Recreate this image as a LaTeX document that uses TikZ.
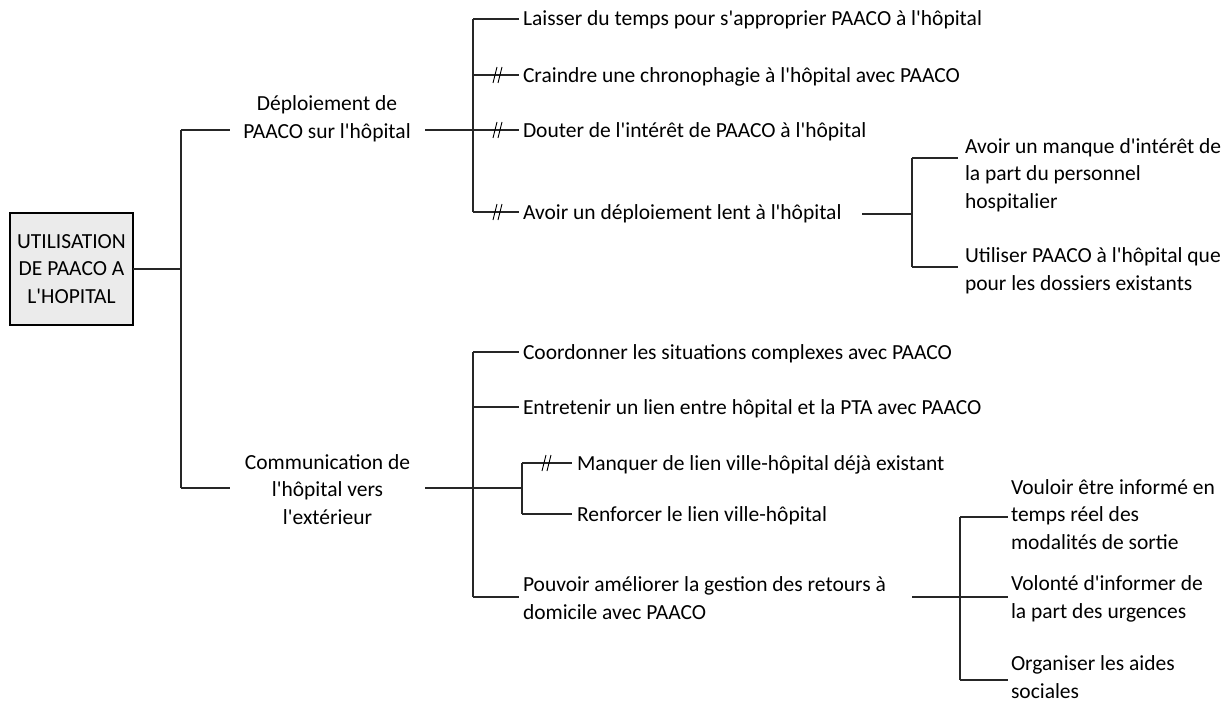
\documentclass[tikz,border=0pt]{standalone}
\usepackage{fontspec}
\setmainfont{Carlito}[Ligatures=TeXOff]
\begin{document}
\begin{tikzpicture}[x=1pt,y=-1pt,
  every node/.style={inner sep=0pt, outer sep=0pt, font=\fontsize{21.5}{27.5}\selectfont},
  leaf/.style={anchor=base west, align=left},
  mid/.style={anchor=base, align=center},
  conn/.style={draw=black!85, line width=1.3pt},
  rootbox/.style={draw=black, fill=black!8, line width=2.8pt, minimum width=123pt, minimum height=112pt, align=center},
  slashes/.pic={\draw[line width=0.9pt] (-5,8)--(-1,-8) (0,8)--(4,-8);}
]
\useasboundingbox (0,0) rectangle (1231,701);

% root
\node[rootbox] (root) at (71.5,269) {UTILISATION\\DE PAACO A\\L'HOPITAL};

% level 1 (anchor = baseline of last line)
\node[mid] (dep) at (327,138) {Déploiement de\\PAACO sur l'hôpital};
\node[mid] (com) at (327.5,524) {Communication de\\l'hôpital vers\\l'extérieur};

% level 2 (deploiement)
\node[leaf] (l1) at (523,26) {Laisser du temps pour s'approprier PAACO à l'hôpital};
\node[leaf] (l2) at (523,82) {Craindre une chronophagie à l'hôpital avec PAACO};
\node[leaf] (l3) at (523,137) {Douter de l'intérêt de PAACO à l'hôpital};
\node[leaf] (l4) at (523,219) {Avoir un déploiement lent à l'hôpital};
\node[leaf] (l5) at (965,208) {Avoir un manque d'intérêt de\\la part du personnel\\hospitalier};
\node[leaf] (l6) at (965,290) {Utiliser PAACO à l'hôpital que\\pour les dossiers existants};

% level 2 (communication)
\node[leaf] (c1) at (523,359) {Coordonner les situations complexes avec PAACO};
\node[leaf] (c2) at (523,414) {Entretenir un lien entre hôpital et la PTA avec PAACO};
\node[leaf] (c3) at (577,470) {Manquer de lien ville-hôpital déjà existant};
\node[leaf] (c4) at (577,521) {Renforcer le lien ville-hôpital};
\node[leaf] (c5) at (523,619) {Pouvoir améliorer la gestion des retours à\\domicile avec PAACO};
\node[leaf] (c6) at (1011,549) {Vouloir être informé en\\temps réel des\\modalités de sortie};
\node[leaf] (c7) at (1011,618) {Volonté d'informer de\\la part des urgences};
\node[leaf] (c8) at (1011,698) {Organiser les aides\\sociales};

% junction coordinates
\coordinate (r0) at (181,269);
\coordinate (rtop) at (181,130);
\coordinate (rbot) at (181,488);
\coordinate (dl) at (230,130);
\coordinate (dr) at (425,130);
\coordinate (dj) at (473,130);
\coordinate (djt) at (473,19);
\coordinate (djb) at (473,212);
\coordinate (cl) at (230,488);
\coordinate (cr) at (425,488);
\coordinate (cj) at (473,488);
\coordinate (cjt) at (473,352);
\coordinate (cjb) at (473,597);
\coordinate (sj) at (522,488);
\coordinate (sjt) at (522,463);
\coordinate (sjb) at (522,514);
\coordinate (al) at (862,214);
\coordinate (aj) at (912,214);
\coordinate (ajt) at (912,158);
\coordinate (ajb) at (912,267);
\coordinate (pl) at (912,597);
\coordinate (pj) at (960,597);
\coordinate (pjt) at (960,517);
\coordinate (pjb) at (960,680);

% connectors: root
\draw[conn] (root.east |- r0) -- (r0);
\draw[conn] (rtop) -- (rbot);
\draw[conn] (rtop) -- (dl);
\draw[conn] (rbot) -- (cl);

% deploiement
\draw[conn] (dr) -- (dj);
\draw[conn] (djt) -- (djb);
\draw[conn] (djt) -- (519,19);
\draw[conn] (473,75) -- (519,75);
\draw[conn] (dj) -- (519,130);
\draw[conn] (djb) -- (519,212);
\pic at (498,75) {slashes};
\pic at (498,130) {slashes};
\pic at (498,212) {slashes};

\draw[conn] (al) -- (aj);
\draw[conn] (ajt) -- (ajb);
\draw[conn] (ajt) -- (958,158);
\draw[conn] (ajb) -- (958,267);

% communication
\draw[conn] (cr) -- (cj);
\draw[conn] (cjt) -- (cjb);
\draw[conn] (cjt) -- (519,352);
\draw[conn] (473,407) -- (519,407);
\draw[conn] (cj) -- (sj);
\draw[conn] (cjb) -- (519,597);
\draw[conn] (sjt) -- (sjb);
\draw[conn] (sjt) -- (572,463);
\draw[conn] (sjb) -- (572,514);
\pic at (547,463) {slashes};

\draw[conn] (pl) -- (1008,597);
\draw[conn] (pjt) -- (pjb);
\draw[conn] (pjt) -- (1008,517);
\draw[conn] (pjb) -- (1008,680);
\end{tikzpicture}
\end{document}
